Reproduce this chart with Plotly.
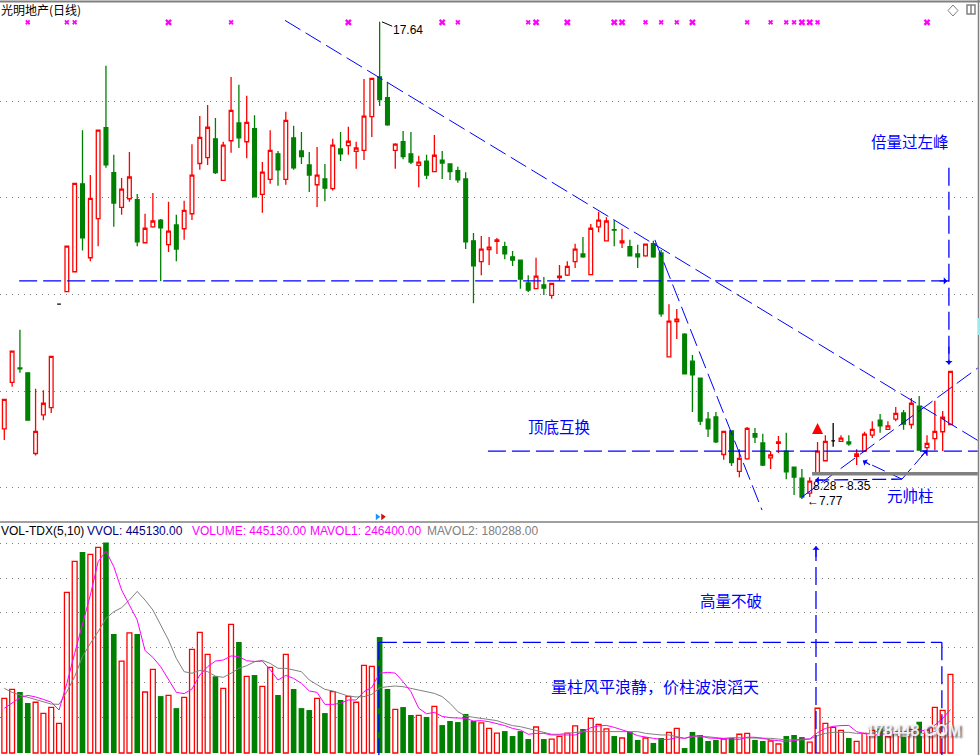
import plotly.graph_objects as go

opens = [9.22,10.18,10.48,10.38,8.71,9.51,9.66,11.80,12.06,12.47,14.29,12.76,13.57,15.45,14.52,13.80,13.98,13.96,13.07,13.40,
13.54,13.03,13.44,13.36,13.67,14.71,14.83,15.22,14.36,15.18,15.55,15.16,15.43,14.07,14.38,14.91,14.38,15.24,14.97,14.68,
14.27,14.39,14.19,15.01,15.08,14.96,14.98,15.68,16.50,16.07,14.98,15.16,14.91,14.67,14.76,14.54,14.78,14.70,14.56,14.39,
13.11,12.68,12.93,13.10,12.99,12.78,12.71,12.24,12.12,12.20,11.98,12.35,12.40,12.68,12.84,12.41,13.40,13.11,13.34,13.07,
12.99,12.84,12.80,13.05,12.86,10.71,11.44,11.18,10.62,10.27,9.42,9.47,8.69,9.18,8.34,8.60,9.12,8.93,8.62,8.92,
8.76,8.43,8.20,7.89,8.31,8.56,8.97,8.96,8.95,8.65,8.76,9.09,9.40,9.21,9.42,9.55,9.31,9.69,8.83,9.02,9.16,9.31]
highs = [9.83,10.83,11.27,10.38,10.05,10.02,10.72,11.80,13.00,14.30,15.40,14.47,15.40,16.73,14.89,14.41,14.95,14.08,13.67,14.10,
13.56,13.92,13.65,13.94,15.11,15.69,15.92,15.65,15.16,16.50,16.34,16.11,15.71,14.74,15.40,14.97,15.78,15.49,15.36,14.95,
15.05,14.70,15.22,15.36,15.47,15.16,16.46,16.47,17.64,16.40,15.13,15.38,15.36,14.87,14.89,15.30,14.97,14.70,14.64,14.53,
13.27,13.21,13.19,13.17,13.09,12.90,12.71,12.40,12.76,12.36,12.23,12.61,12.69,13.05,13.19,13.46,13.71,13.60,13.54,13.36,
13.13,13.03,13.05,13.11,12.92,11.80,11.70,11.20,10.75,10.27,9.57,9.57,9.17,9.18,8.80,9.26,9.24,9.12,8.76,9.07,
9.14,8.43,8.39,8.22,8.95,9.09,9.34,9.09,9.09,8.80,9.16,9.38,9.53,9.38,9.67,9.61,9.86,9.90,9.09,9.80,9.59,10.41]
lows = [8.99,10.09,10.38,9.40,8.67,9.40,9.55,11.80,12.06,12.47,12.91,12.69,13.00,14.62,13.40,13.65,13.92,13.00,13.07,13.38,
12.28,12.88,12.69,13.13,13.54,14.58,14.68,14.49,14.36,14.93,15.03,14.82,14.02,13.69,14.29,14.25,14.27,14.58,14.70,14.12,
13.81,13.93,14.15,14.76,14.89,14.60,14.78,15.26,15.90,15.49,14.60,14.80,14.70,14.22,14.39,14.54,14.39,14.37,14.31,12.94,
11.82,12.40,12.61,12.84,12.73,12.59,12.12,12.05,12.11,11.99,11.91,12.28,12.38,12.55,12.76,12.41,13.29,13.11,13.00,12.96,
12.80,12.55,12.78,12.76,11.54,10.71,11.08,10.36,9.57,9.30,9.05,8.93,8.58,8.45,8.22,8.58,8.93,8.45,8.39,8.72,
8.18,7.85,7.77,7.81,8.31,8.56,8.85,8.96,8.87,8.47,8.76,9.03,9.14,9.20,9.38,9.20,9.22,8.78,8.66,8.78,8.76,9.31]
closes = [9.83,10.83,10.46,9.40,9.17,9.75,10.72,11.80,13.00,14.30,13.17,13.99,15.40,14.68,13.89,14.18,14.43,13.09,13.37,13.52,
13.38,13.31,12.94,13.74,14.47,15.25,15.46,14.52,15.09,15.81,15.24,15.56,14.02,14.53,14.98,14.58,15.60,14.62,14.85,14.47,
14.47,14.20,15.09,14.91,15.17,15.03,15.69,16.47,16.03,15.51,15.11,14.85,14.74,14.74,14.47,14.88,14.72,14.54,14.37,13.09,
12.59,12.94,12.98,13.13,12.84,12.71,12.32,12.09,12.38,12.13,12.23,12.38,12.58,12.94,12.78,13.37,13.54,13.52,13.33,13.11,
12.80,12.78,13.04,12.78,11.60,11.45,11.49,10.36,10.34,9.38,9.22,8.95,9.17,8.52,8.61,9.23,9.05,8.47,8.68,8.95,
8.33,8.22,7.81,8.14,8.76,8.96,8.97,9.03,8.91,8.70,9.11,9.21,9.28,9.28,9.54,9.32,9.75,8.78,8.92,9.17,9.46,10.41]
volumes = [309,360,345,283,287,224,258,168,909,1084,1137,1123,1163,1191,673,520,679,673,345,473,
322,326,254,315,586,682,558,434,366,728,628,434,441,377,484,328,558,362,254,243,
309,226,347,300,320,287,496,490,656,362,247,260,215,213,204,264,158,181,175,221,
181,170,139,113,124,96,124,79,147,79,79,94,113,153,136,196,162,136,96,85,
119,74,85,57,85,117,139,28,119,102,68,74,79,85,106,111,74,68,68,51,
96,102,90,62,253,168,145,128,85,66,111,128,139,92,121,92,134,177,130,258,241,445]
mavol1 = [253,281,313,326,317,303,288,243,394,564,733,893,1082,1142,1054,922,837,752,579,541,
488,413,343,336,362,441,488,520,526,549,545,522,518,520,471,413,439,422,394,351,343,275,
275,281,300,300,347,371,451,456,452,403,347,253,222,230,207,200,196,196,181,183,177,168,155,139,130,106,111,111,102,102,102,102,121,143,153,156,145,132,117,98,89,83,
77,77,87,83,96,98,85,83,83,79,77,89,89,83,74,70,64,70,79,79,115,139,151,155,156,121,109,98,106,109,121,121,121,124,130,158,196,246]
mavol2 = [366,343,328,315,300,287,277,275,347,432,545,620,686,762,799,822,865,914,865,809,
724,639,535,460,451,467,460,435,428,451,479,494,516,524,507,479,479,469,460,413,385,360,
351,336,322,317,319,332,369,375,379,375,366,356,347,337,319,281,234,209,202,196,190,183,168,155,149,139,130,117,106,106,111,117,121,121,121,124,124,124,124,121,111,106,
102,102,92,83,92,92,92,87,83,87,87,87,87,87,83,79,74,74,74,79,98,111,117,117,117,111,111,111,130,121,111,111,111,111,111,121,149,180]
price_grid = [8, 10, 12, 14, 16]
volume_grid = [202, 398, 598, 793, 988, 1186]
signal_small = [3, 8, 9, 29, 58, 67, 82, 84, 86, 95, 98, 100, 101, 104]
signal_large = [21, 44, 56, 68, 72, 78, 79, 88, 102, 103, 118]
black_days = [7, 106]
n = len(closes)
assert all(len(a) == n for a in (opens, highs, lows, volumes, mavol1, mavol2))
idx = list(range(n))

BLUE, RED, GREEN, MAG, GRAY = "#0000ff", "#ff0000", "#008000", "#ff00ff", "#808080"
W, H = 980, 755
fx = lambda p: p / W
fy = lambda p: 1 - p / H
XR = [-0.55, 124.52]

def keep(a): return [None if i in black_days else v for i, v in enumerate(a)]

fig = go.Figure()
fig.add_trace(go.Candlestick(x=idx, open=keep(opens), high=keep(highs), low=keep(lows), close=keep(closes),
    increasing=dict(line=dict(color=RED, width=1.3), fillcolor="#ffffff"),
    decreasing=dict(line=dict(color=GREEN, width=1.3), fillcolor=GREEN), whiskerwidth=0, hoverinfo="skip"))
bk = black_days
fig.add_trace(go.Candlestick(x=bk, open=[opens[i] for i in bk], high=[highs[i] for i in bk], low=[lows[i] for i in bk], close=[closes[i] for i in bk],
    increasing=dict(line=dict(color="#000000", width=1.3), fillcolor="#000000"),
    decreasing=dict(line=dict(color="#000000", width=1.3), fillcolor="#000000"), whiskerwidth=0, hoverinfo="skip"))
for s, lst in ((4.5, signal_small), (6, signal_large)):
    fig.add_trace(go.Scatter(x=lst, y=[17.63] * len(lst), mode="markers",
        marker=dict(symbol="x", size=s, color=MAG, line=dict(width=0))))
# small marker glyphs on the price panel
fig.add_trace(go.Scatter(x=[104], y=[9.34], mode="markers", marker=dict(symbol="arrow-up", size=11, color=RED, line=dict(width=0))))
fig.add_trace(go.Scatter(x=[47.7], y=[7.40], mode="markers", marker=dict(symbol="triangle-right", size=6, color="#1e90ff", line=dict(width=0))))
fig.add_trace(go.Scatter(x=[48.4], y=[7.40], mode="markers", marker=dict(symbol="triangle-right", size=6, color="#d01010", line=dict(width=0))))

up_v = [v if closes[i] >= opens[i] else None for i, v in enumerate(volumes)]
dn_v = [v if closes[i] < opens[i] else None for i, v in enumerate(volumes)]
fig.add_trace(go.Bar(x=idx, y=up_v, width=0.62, marker=dict(color="#ffffff", line=dict(color=RED, width=1.3)), xaxis="x2", yaxis="y2"))
fig.add_trace(go.Bar(x=idx, y=dn_v, width=0.72, marker=dict(color=GREEN, line=dict(width=0)), xaxis="x2", yaxis="y2"))
fig.add_trace(go.Scatter(x=idx, y=mavol2, mode="lines", line=dict(color=GRAY, width=1), xaxis="x2", yaxis="y2"))
fig.add_trace(go.Scatter(x=idx, y=mavol1, mode="lines", line=dict(color=MAG, width=1), xaxis="x2", yaxis="y2"))

shapes = []
DASH = "18px,6px"
def seg(x0, y0, x1, y1, panel=1, color=BLUE, width=1, dash=DASH):
    s = "" if panel == 1 else "2"
    shapes.append(dict(type="line", xref="x" + s, yref="y" + s, x0=x0, y0=y0, x1=x1, y1=y1,
                       line=dict(color=color, width=width, dash=dash), layer="above"))
seg(35.9, 17.67, 124.5, 8.98)        # main down trend
seg(83.2, 13.13, 96.9, 7.54)         # steep down trend
seg(1.9, 12.28, 120.8, 12.28, width=1.3)
seg(61.85, 8.76, 124.5, 8.76, width=1.3)
seg(102, 7.81, 124.5, 10.48)         # up channel
seg(120.8, 14.62, 120.8, 10.55, width=1.3)
seg(103.7, 8.16, 114.8, 8.18, width=1.3, dash="14px,5px")
seg(114.8, 8.18, 109.8, 8.56, dash="14px,5px")
seg(114.8, 8.18, 118.0, 8.78, dash="14px,5px")
seg(103.3, 8.29, 124.5, 8.29, color=GRAY, width=3.4, dash="solid")
seg(48.3, 17.64, 49.6, 17.55, color="#000000", dash="solid")
seg(47.9, 626, 119.9, 626, panel=2, width=1.3)
seg(47.9, 626, 47.9, -12, panel=2, width=1.3)
seg(119.9, 626, 119.9, -12, panel=2, width=1.3)
seg(103.8, 0, 103.8, 1170, panel=2, width=1.3)

# frame lines and corner icons
def rect(x0, y0, x1, y1, fill=None, line=GRAY, width=1):
    shapes.append(dict(type="rect", xref="paper", yref="paper", x0=fx(x0), y0=fy(y0), x1=fx(x1), y1=fy(y1),
                       fillcolor=fill or "rgba(0,0,0,0)", line=dict(color=line, width=width), layer="above"))
def pline(x0, y0, x1, y1, width=1, color=GRAY):
    shapes.append(dict(type="line", xref="paper", yref="paper", x0=fx(x0), y0=fy(y0), x1=fx(x1), y1=fy(y1),
                       line=dict(color=color, width=width), layer="above"))
pline(0, 1.5, 980, 1.5, 2)
pline(0, 522, 978, 522, 1.5)
pline(978.5, 0, 978.5, 755, 1.5)
rect(978, 318, 980, 335, fill="#a0e8f0", line="#a0e8f0", width=0)
rect(967, 5, 975, 14, width=1.5)
pline(971, 5, 971, 14, 1.5)
shapes.append(dict(type="path", xref="paper", yref="paper", path=f"M {fx(953)} {fy(5)} L {fx(958)} {fy(10.5)} L {fx(953)} {fy(16)} L {fx(948)} {fy(10.5)} Z",
                   line=dict(color=GRAY, width=1)))

ann = []
def txt(s, x, y, color="#000000", size=12, family="Liberation Sans", anchor="left", **font_kw):
    ann.append(dict(text=s, xref="paper", yref="paper", x=fx(x), y=fy(y), xanchor=anchor, yanchor="middle",
                    showarrow=False, borderpad=0, borderwidth=0, font=dict(color=color, size=size, family=family, **font_kw)))
CJK = "Noto Sans CJK SC"
txt("光明地产(日线)", 1, 10, size=12, family=CJK)
txt("17.64", 393, 30, size=12)
txt("8.28 - 8.35", 813, 486, size=12)
txt("←7.77", 807, 501, size=12)
txt("VOL-TDX(5,10)", 1, 531)
txt("VVOL: 445130.00", 87, 531, color="#000080")
txt("VOLUME: 445130.00", 192, 531, color=MAG)
txt("MAVOL1: 246400.00", 310, 531, color=MAG)
txt("MAVOL2: 180288.00", 427, 531, color=GRAY)
txt("倍量过左峰", 910, 141, color=BLUE, size=15.5, family=CJK, anchor="center")
txt("顶底互换", 559, 426, color=BLUE, size=15.5, family=CJK, anchor="center")
txt("元帅柱", 910, 495, color=BLUE, size=15.5, family=CJK, anchor="center")
txt("高量不破", 731, 600, color=BLUE, size=15.5, family=CJK, anchor="center")
txt("量柱风平浪静，价柱波浪滔天", 655, 686, color=BLUE, size=16, family=CJK, anchor="center")
# watermark, one text with a drop shadow
txt("<b>178448.COM</b>", 913, 730, color="rgba(248,248,248,0.92)", size=16, anchor="center",
    shadow="2px 2px 2px rgba(70,70,70,0.8)")

def arrow(x, y, ax, ay, axis="", color=BLUE, aw=1.1):
    ann.append(dict(text="", x=x, y=y, ax=ax, ay=ay, xref="x" + axis, yref="y" + axis, axref="x" + axis, ayref="y" + axis,
                    showarrow=True, arrowhead=1, arrowsize=1.1, arrowwidth=aw, arrowcolor=color))
arrow(120.8, 10.55, 120.8, 10.95)
arrow(120.6, 12.28, 119.4, 12.28)
arrow(103.8, 1170, 103.8, 1100, axis="2")
arrow(103.7, 8.16, 104.9, 8.16)
arrow(109.8, 8.56, 110.9, 8.46)
arrow(118.0, 8.78, 117.1, 8.62)

fig.update_layout(
    width=W, height=H, margin=dict(l=0, r=0, t=0, b=0), paper_bgcolor="#ffffff", plot_bgcolor="#ffffff",
    showlegend=False, barmode="overlay", boxgap=0.32, hovermode=False, shapes=shapes, annotations=ann,
    xaxis=dict(domain=[0, 978 / W], range=XR, visible=False, rangeslider=dict(visible=False), fixedrange=True),
    xaxis2=dict(domain=[0, 978 / W], range=XR, visible=False, anchor="y2", fixedrange=True),
    yaxis=dict(domain=[fy(521), fy(3)], range=[7.314, 18.03], tickmode="array", tickvals=price_grid, showticklabels=False,
               showgrid=True, gridcolor=GRAY, griddash="1px,5px", gridwidth=1, zeroline=False, showline=False, ticks="", fixedrange=True),
    yaxis2=dict(domain=[0, fy(523)], range=[-11.3, 1301], tickmode="array", tickvals=volume_grid, showticklabels=False,
                showgrid=True, gridcolor=GRAY, griddash="1px,5px", gridwidth=1, zeroline=False, showline=False, ticks="", anchor="x2", fixedrange=True),
)
fig.write_html("out.html", config=dict(displayModeBar=False),
               post_script="document.body.style.margin='0';document.documentElement.style.overflow='hidden';")
